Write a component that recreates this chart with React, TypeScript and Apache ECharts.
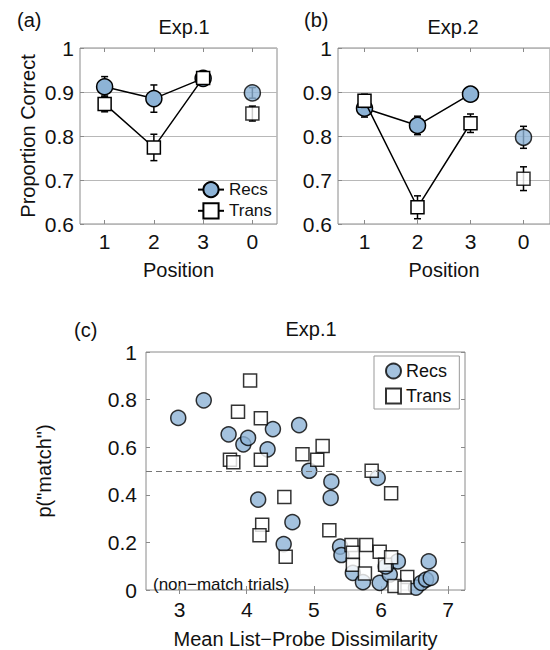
import React, { useEffect, useRef } from 'react';
import * as echarts from 'echarts';

const positions = ['1', '2', '3', '0'];
const exp1Recs = [0.912, 0.885, 0.931, 0.898];
const exp1RecsErr = [0.023, 0.031, 0.01, 0.012];
const exp1Trans = [0.873, 0.774, 0.932, 0.851];
const exp1TransErr = [0.018, 0.03, 0.01, 0.017];
const exp2Recs = [0.863, 0.824, 0.895, 0.797];
const exp2RecsErr = [0.02, 0.021, 0.01, 0.025];
const exp2Trans = [0.88, 0.638, 0.829, 0.703];
const exp2TransErr = [0.015, 0.026, 0.021, 0.027];

const recsDissim = [2.98, 3.36, 3.73, 3.95, 4.02, 4.39, 4.31, 4.78, 4.93, 4.17, 4.68, 4.55, 5.26, 5.25, 5.95, 5.39, 5.41, 5.58, 5.73, 5.98, 6.13, 6.25, 6.07, 6.52, 6.6, 6.67, 6.74, 6.71];
const recsMatch = [0.723, 0.797, 0.654, 0.612, 0.639, 0.676, 0.591, 0.693, 0.501, 0.38, 0.285, 0.193, 0.455, 0.387, 0.471, 0.182, 0.147, 0.072, 0.033, 0.03, 0.065, 0.12, 0.099, 0.01, 0.03, 0.044, 0.051, 0.12];
const transDissim = [4.05, 3.87, 4.21, 3.75, 3.8, 4.21, 4.83, 5.05, 5.13, 4.56, 4.23, 4.19, 4.58, 5.23, 5.86, 6.15, 5.56, 5.58, 5.58, 5.78, 5.76, 5.98, 6.06, 6.15, 6.39, 6.2, 6.35];
const transMatch = [0.88, 0.749, 0.722, 0.547, 0.537, 0.547, 0.57, 0.547, 0.605, 0.391, 0.274, 0.23, 0.14, 0.251, 0.501, 0.407, 0.189, 0.157, 0.106, 0.189, 0.069, 0.161, 0.106, 0.138, 0.055, 0.017, 0.01];
const dissimTicks = [3, 4, 5, 6, 7];
const matchThreshold = 0.5;

const FONT = 'Liberation Sans, Arial, Helvetica, sans-serif';
const BLUE = '#8db3d6';
const FRAME = '#8a8a8a';
const GRIDLINE = '#b8b8b8';

const errRender = (params: any, api: any) => {
  const x = api.value(0);
  const lo = api.coord([x, api.value(1)]);
  const hi = api.coord([x, api.value(2)]);
  const w = 3.5;
  const style = { stroke: '#000', lineWidth: 1.5, fill: 'none' };
  return {
    type: 'group',
    children: [
      { type: 'line', shape: { x1: lo[0], y1: lo[1], x2: hi[0], y2: hi[1] }, style },
      { type: 'line', shape: { x1: lo[0] - w, y1: lo[1], x2: lo[0] + w, y2: lo[1] }, style },
      { type: 'line', shape: { x1: hi[0] - w, y1: hi[1], x2: hi[0] + w, y2: hi[1] }, style },
    ],
  };
};

const errData = (v: number[], e: number[]) => v.map((val, i) => [i, val - e[i], val + e[i]]);

const recsStyle = { color: BLUE, borderColor: '#000', borderWidth: 1.5 };
const transStyle = { color: '#fff', borderColor: '#000', borderWidth: 1.5 };

function panelSeries(recs: number[], recsErr: number[], trans: number[], transErr: number[], axis: number, suffix: string) {
  return [
    {
      type: 'custom', name: 'errR' + suffix, xAxisIndex: axis, yAxisIndex: axis / 2,
      renderItem: errRender, data: errData(recs, recsErr), encode: { x: 0, y: [1, 2] }, clip: false, z: 2,
    },
    {
      type: 'line', name: 'Recs' + suffix, xAxisIndex: axis, yAxisIndex: axis / 2,
      data: recs.slice(0, 3), symbol: 'circle', symbolSize: 16,
      lineStyle: { color: '#000', width: 1.5 }, itemStyle: recsStyle, z: 3,
    },
    {
      type: 'scatter', name: 'RecsZ' + suffix, xAxisIndex: axis, yAxisIndex: axis / 2,
      data: [[3, recs[3]]], symbol: 'circle', symbolSize: 16, itemStyle: recsStyle, z: 3,
    },
    {
      type: 'custom', name: 'errT' + suffix, xAxisIndex: axis, yAxisIndex: axis / 2,
      renderItem: errRender, data: errData(trans, transErr), encode: { x: 0, y: [1, 2] }, clip: false, z: 4,
    },
    {
      type: 'line', name: 'Trans' + suffix, xAxisIndex: axis, yAxisIndex: axis / 2,
      data: trans.slice(0, 3), symbol: 'rect', symbolSize: 13,
      lineStyle: { color: '#000', width: 1.5 }, itemStyle: transStyle, z: 5,
    },
    {
      type: 'scatter', name: 'TransZ' + suffix, xAxisIndex: axis, yAxisIndex: axis / 2,
      data: [[3, trans[3]]], symbol: 'rect', symbolSize: 13, itemStyle: transStyle, z: 5,
    },
  ];
}

const catAxis = (grid: number, position: 'bottom' | 'top', withName: boolean) => ({
  type: 'category', gridIndex: grid, position, data: positions, boundaryGap: true,
  axisLine: { show: false },
  axisTick: { show: true, inside: true, alignWithLabel: true, length: 4, lineStyle: { color: FRAME } },
  axisLabel: position === 'bottom'
    ? { show: true, margin: 7, fontSize: 21, color: '#111', fontFamily: FONT }
    : { show: false },
  splitLine: { show: false },
  name: withName ? 'Position' : '',
  nameLocation: 'middle', nameGap: 36,
  nameTextStyle: { fontSize: 20, color: '#111', fontFamily: FONT },
});

const propAxis = (grid: number, name: string) => ({
  type: 'value', gridIndex: grid, min: 0.6, max: 1, interval: 0.1,
  axisLine: { show: false },
  axisTick: { show: true, inside: true, length: 4, lineStyle: { color: FRAME } },
  axisLabel: {
    margin: 6, fontSize: 21, color: '#111', fontFamily: FONT,
    formatter: (v: number) => String(+v.toFixed(1)),
  },
  splitLine: { show: true, lineStyle: { color: GRIDLINE, width: 1 } },
  name, nameLocation: 'middle', nameGap: 42,
  nameTextStyle: { fontSize: 20, color: '#111', fontFamily: FONT },
});

export default function App() {
  const ref = useRef<HTMLDivElement>(null);
  useEffect(() => {
    if (!ref.current) return;
    const chart = echarts.init(ref.current, undefined, { renderer: 'svg' });
    const option: any = {
      animation: false,
      backgroundColor: '#fff',
      textStyle: { fontFamily: FONT },
      title: [
        { text: 'Exp.1', left: 179, top: 12, textAlign: 'center', textStyle: { fontSize: 20, fontWeight: 'normal', color: '#111', fontFamily: FONT } },
        { text: 'Exp.2', left: 448, top: 12, textAlign: 'center', textStyle: { fontSize: 20, fontWeight: 'normal', color: '#111', fontFamily: FONT } },
        { text: 'Exp.1', left: 306, top: 314, textAlign: 'center', textStyle: { fontSize: 20, fontWeight: 'normal', color: '#111', fontFamily: FONT } },
      ],
      grid: [
        { left: 80, top: 48, width: 197, height: 176, show: true, borderColor: FRAME, borderWidth: 1, backgroundColor: 'transparent' },
        { left: 338, top: 48, width: 212, height: 176, show: true, borderColor: FRAME, borderWidth: 1, backgroundColor: 'transparent' },
        { left: 146, top: 352, width: 319, height: 242, show: true, borderColor: FRAME, borderWidth: 1, backgroundColor: 'transparent' },
      ],
      xAxis: [
        catAxis(0, 'bottom', true),
        catAxis(0, 'top', false),
        catAxis(1, 'bottom', true),
        catAxis(1, 'top', false),
        {
          type: 'value', gridIndex: 2, position: 'bottom', min: 2.5, max: 7.25,
          axisLine: { show: false },
          axisTick: { show: true, inside: true, length: 4, customValues: dissimTicks, lineStyle: { color: FRAME } },
          axisLabel: { show: true, customValues: dissimTicks, margin: 9, fontSize: 21, color: '#111', fontFamily: FONT },
          splitLine: { show: false },
          name: 'Mean List\u2212Probe Dissimilarity', nameLocation: 'middle', nameGap: 39,
          nameTextStyle: { fontSize: 20, color: '#111', fontFamily: FONT },
        },
        {
          type: 'value', gridIndex: 2, position: 'top', min: 2.5, max: 7.25,
          axisLine: { show: false },
          axisTick: { show: true, inside: true, length: 4, customValues: dissimTicks, lineStyle: { color: FRAME } },
          axisLabel: { show: false, customValues: dissimTicks },
          splitLine: { show: false },
        },
      ],
      yAxis: [
        propAxis(0, 'Proportion Correct'),
        propAxis(1, ''),
        {
          type: 'value', gridIndex: 2, position: 'left', min: 0, max: 1, interval: 0.2,
          axisLine: { show: false },
          axisTick: { show: true, inside: true, length: 4, lineStyle: { color: FRAME } },
          axisLabel: { margin: 9, fontSize: 21, color: '#111', fontFamily: FONT, formatter: (v: number) => String(+v.toFixed(1)) },
          splitLine: { show: false },
          name: 'p("match")', nameLocation: 'middle', nameGap: 92,
          nameTextStyle: { fontSize: 20, color: '#111', fontFamily: FONT },
        },
        {
          type: 'value', gridIndex: 2, position: 'right', min: 0, max: 1, interval: 0.2,
          axisLine: { show: false },
          axisTick: { show: true, inside: true, length: 4, lineStyle: { color: FRAME } },
          axisLabel: { show: false },
          splitLine: { show: false },
        },
      ],
      legend: [
        {
          data: ['Recs', 'Trans'], orient: 'vertical', left: 197, top: 181, padding: 0,
          itemWidth: 26, itemHeight: 19, itemGap: 4, selectedMode: false,
          textStyle: { fontSize: 17, color: '#111', fontFamily: FONT },
        },
        {
          data: ['RecsC', 'TransC'], orient: 'vertical', left: 374, top: 356,
          padding: [6, 8, 4, 11], itemWidth: 15, itemHeight: 15, itemGap: 7, selectedMode: false,
          borderColor: '#999', borderWidth: 1, backgroundColor: '#fff',
          formatter: (n: string) => n.replace('C', ''),
          textStyle: { fontSize: 18, color: '#111', fontFamily: FONT },
        },
      ],
      graphic: [
        { type: 'text', left: 17, top: 10, style: { text: '(a)', fontSize: 20, fill: '#111', fontFamily: FONT } },
        { type: 'text', left: 304, top: 10, style: { text: '(b)', fontSize: 20, fill: '#111', fontFamily: FONT } },
        { type: 'text', left: 74, top: 320, style: { text: '(c)', fontSize: 20, fill: '#111', fontFamily: FONT } },
        { type: 'text', left: 153, top: 576, style: { text: '(non\u2212match trials)', fontSize: 17, fill: '#111', fontFamily: FONT } },
      ],
      series: [
        ...panelSeries(exp1Recs, exp1RecsErr, exp1Trans, exp1TransErr, 0, ''),
        ...panelSeries(exp2Recs, exp2RecsErr, exp2Trans, exp2TransErr, 2, '2'),
        {
          type: 'scatter', name: 'RecsC', xAxisIndex: 4, yAxisIndex: 2,
          data: recsDissim.map((x, i) => [x, recsMatch[i]]),
          symbol: 'circle', symbolSize: 15, itemStyle: recsStyle, z: 3,
          markLine: {
            silent: true, symbol: 'none', label: { show: false },
            lineStyle: { color: '#777', type: [6, 4], width: 1 },
            data: [{ yAxis: matchThreshold }],
          },
        },
        {
          type: 'scatter', name: 'TransC', xAxisIndex: 4, yAxisIndex: 2,
          data: transDissim.map((x, i) => [x, transMatch[i]]),
          symbol: 'rect', symbolSize: 13, itemStyle: transStyle, z: 4,
        },
      ],
    };
    chart.setOption(option);
    return () => chart.dispose();
  }, []);
  return <div ref={ref} style={{ position: 'absolute', left: 0, top: 0, width: 550, height: 650 }} />;
}
